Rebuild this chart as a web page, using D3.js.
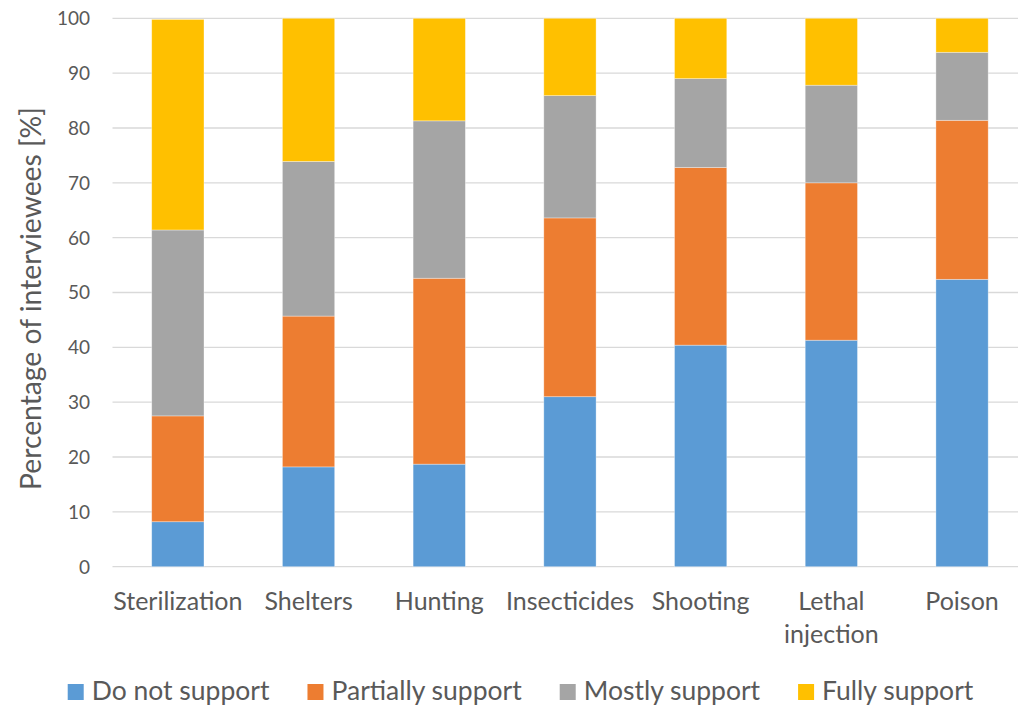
<!DOCTYPE html>
<meta charset="utf-8">

<style>

body {
  margin: 0;
  background: #fff;
}

text {
  font-family: Lato, "Open Sans", sans-serif;
  fill: #595959;
}

.grid line {
  stroke: #d9d9d9;
  stroke-width: 1.3px;
}

.bar {
  stroke: #fff;
  stroke-width: .75px;
  stroke-opacity: .45;
}

</style>

<body>

<svg id="chart" width="1018" height="707"></svg>

<script src="https://cdn.jsdelivr.net/npm/d3@7"></script>
<script>

const categories = ["Sterilization", "Shelters", "Hunting", "Insecticides", "Shooting", "Lethal injection", "Poison"]
const series = ["Do not support", "Partially support", "Mostly support", "Fully support"]
const colors = ["#5b9bd5", "#ed7d31", "#a5a5a5", "#ffc000"]

// share of interviewees per answer, per category
const doNotSupport     = [8.2, 18.2, 18.7, 31.0, 40.4, 41.3, 52.4]
const partiallySupport = [19.3, 27.5, 33.9, 32.6, 32.4, 28.7, 29.0]
const mostlySupport    = [33.9, 28.2, 28.7, 22.3, 16.2, 17.8, 12.4]
const fullySupport     = [38.4, 26.1, 18.7, 14.1, 11.0, 12.2, 6.2]

const yTicks = d3.range(0, 101, 10)

const width = 1018
const height = 707
const margin = {left: 112.5, right: -9.4, top: 18.3, bottom: 140.3}

const svg = d3.select("#chart")

const x = d3.scaleBand()
    .domain(categories)
    .range([margin.left, width - margin.right])
    .paddingInner(0.6)
    .paddingOuter(0.3)

const y = d3.scaleLinear()
    .domain([0, 100])
    .range([height - margin.bottom, margin.top])

// gridlines
svg.append("g")
    .attr("class", "grid")
  .selectAll("line")
  .data(yTicks)
  .join("line")
    .attr("x1", margin.left)
    .attr("x2", width - margin.right)
    .attr("y1", d => y(d))
    .attr("y2", d => y(d))

// y tick labels
svg.append("g")
  .selectAll("text")
  .data(yTicks)
  .join("text")
    .attr("x", 90)
    .attr("y", d => y(d))
    .attr("dy", "0.36em")
    .attr("text-anchor", "end")
    .style("font-size", "19px")
    .text(d => d)

// stacked bars
const rows = categories.map((c, i) => ({
  category: c,
  "Do not support": doNotSupport[i],
  "Partially support": partiallySupport[i],
  "Mostly support": mostlySupport[i],
  "Fully support": fullySupport[i]
}))

const stacked = d3.stack().keys(series)(rows)

svg.append("g")
  .selectAll("g")
  .data(stacked)
  .join("g")
    .attr("fill", (d, i) => colors[i])
  .selectAll("rect")
  .data(d => d)
  .join("rect")
    .attr("class", "bar")
    .attr("x", d => x(d.data.category))
    .attr("width", x.bandwidth())
    .attr("y", d => y(d[1]))
    .attr("height", d => y(d[0]) - y(d[1]))

// category labels
const lines = {"Lethal injection": ["Lethal", "injection"]}

svg.append("g")
  .selectAll("text")
  .data(categories)
  .join("text")
    .attr("text-anchor", "middle")
    .style("font-size", "25px")
    .attr("transform", d => `translate(${x(d) + x.bandwidth() / 2},610)`)
  .selectAll("tspan")
  .data(d => lines[d] || [d])
  .join("tspan")
    .attr("x", 0)
    .attr("y", (d, i) => i * 32.5)
    .text(d => d)

// y title, sized to span the same length as the original
const title = svg.append("text")
    .attr("transform", "translate(41,298.5) rotate(-90)")
    .attr("text-anchor", "middle")
    .style("font-size", "32px")
    .text("Percentage of interviewees [%]")
const tl = title.node().getComputedTextLength()
title.style("font-size", (32 * 383 / tl) + "px")

// legend
const legend = svg.append("g")
let lx = 0
series.forEach((s, i) => {
  const item = legend.append("g").attr("transform", `translate(${lx},0)`)
  item.append("rect")
      .attr("x", 0).attr("y", -16)
      .attr("width", 16).attr("height", 16)
      .attr("fill", colors[i])
  const t = item.append("text")
      .attr("x", 24)
      .attr("y", 0)
      .style("font-size", "26.5px")
      .text(s)
  lx += 24 + t.node().getComputedTextLength() + 38
})
const legendWidth = lx - 38
legend.attr("transform", `translate(${520.5 - legendWidth / 2},700)`)

</script>
